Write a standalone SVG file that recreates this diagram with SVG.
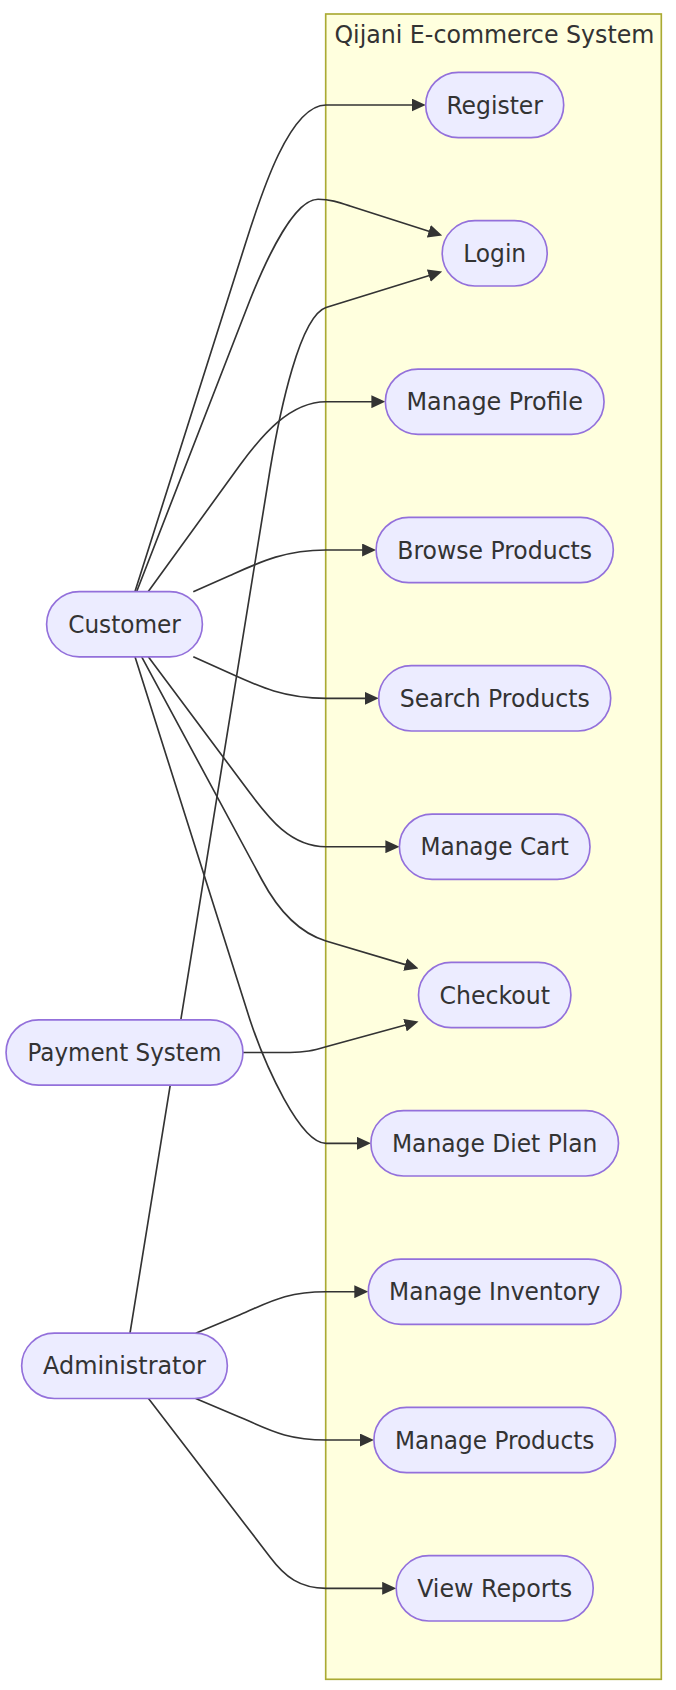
<svg xmlns="http://www.w3.org/2000/svg" width="676" height="1690" viewBox="0 0 676 1690">
<defs>
<style>
.cluster{fill:#ffffde;stroke:#aaaa33;stroke-width:1.65}
.node rect{fill:#ECECFF;stroke:#9370DB;stroke-width:1.65}
.node text,.title{font-family:"DejaVu Sans Condensed","DejaVu Sans","Liberation Sans",sans-serif;font-stretch:condensed;font-size:24.5px;fill:#333333;text-anchor:middle}
.edge{fill:none;stroke:#333333;stroke-width:1.65;marker-end:url(#arrow)}
</style>
<marker id="arrow" viewBox="0 0 14 13" refX="9" refY="6.5" markerWidth="14" markerHeight="13" markerUnits="userSpaceOnUse" orient="auto">
<path d="M0,0 L14,6.5 L0,13 z" fill="#333333"/>
</marker>
</defs>
<rect width="676" height="1690" fill="#ffffff"/>
<g id="cluster-system">
<rect class="cluster" x="325.7" y="14" width="335.6" height="1665.3"/>
<text class="title" x="494.4" y="42.5" textLength="320" lengthAdjust="spacingAndGlyphs">Qijani E-commerce System</text>
</g>
<g id="connectors">
<path class="edge" d="M135,591.55 L245,245 C262,191 290,105 326,105 L420.7,105"/>
<path class="edge" d="M136.7,591.55 L250,300 C268,255 295,199.3 318,199.3 C330,199.3 338,202 350,206 L437.4,234"/>
<path class="edge" d="M148.3,591.55 L240,465 C262,435 290,401.7 326,401.7 L380.35,401.7"/>
<path class="edge" d="M193.3,591.7 L230,575.5 C260,562 285,550 326,550 L371.1,550"/>
<path class="edge" d="M193.3,656.7 L230,673.3 C260,687 285,698.3 326,698.3 L373.7,698.3"/>
<path class="edge" d="M148.3,656.85 L250,793 C268,817 290,846.7 326,846.7 L394.4,846.7"/>
<path class="edge" d="M141.7,656.85 L262,880 C278,910 300,933 326,941 L413.7,967.1"/>
<path class="edge" d="M135,656.85 L250,1020 C265,1065 300,1143.3 326,1143.3 L365.9,1143.3"/>
<path class="edge" d="M242.95,1052.5 L290,1052.5 C305,1052.5 313,1050.5 326,1046.7 L413.7,1022.8"/>
<path class="edge" d="M130,1333.15 L270,470 C280,410 300,316 326,307.5 L437.4,273"/>
<path class="edge" d="M195.7,1333.15 L240,1314.7 C268,1303 285,1291.7 326,1291.7 L363.3,1291.7"/>
<path class="edge" d="M195.7,1398.45 L240,1417.3 C268,1429 285,1440 326,1440 L368.9,1440"/>
<path class="edge" d="M148.5,1398.45 L270,1557 C285,1577 300,1588.3 326,1588.3 L391.2,1588.3"/>
</g>
<g id="register" class="node"><rect x="425.7" y="72.35" width="138" height="65.3" rx="32.65"/><text x="494.7" y="113.6" textLength="96.5" lengthAdjust="spacingAndGlyphs">Register</text></g>
<g id="login" class="node"><rect x="442.2" y="220.65" width="105" height="65.3" rx="32.65"/><text x="494.7" y="261.9" textLength="63" lengthAdjust="spacingAndGlyphs">Login</text></g>
<g id="manage-profile" class="node"><rect x="385.35" y="369.05" width="218.7" height="65.3" rx="32.65"/><text x="494.7" y="410.3" textLength="176.5" lengthAdjust="spacingAndGlyphs">Manage Profile</text></g>
<g id="browse-products" class="node"><rect x="376.1" y="517.35" width="237.2" height="65.3" rx="32.65"/><text x="494.7" y="558.6" textLength="194.8" lengthAdjust="spacingAndGlyphs">Browse Products</text></g>
<g id="search-products" class="node"><rect x="378.7" y="665.65" width="232" height="65.3" rx="32.65"/><text x="494.7" y="706.9" textLength="190" lengthAdjust="spacingAndGlyphs">Search Products</text></g>
<g id="manage-cart" class="node"><rect x="399.4" y="814.05" width="190.6" height="65.3" rx="32.65"/><text x="494.7" y="855.3" textLength="148.5" lengthAdjust="spacingAndGlyphs">Manage Cart</text></g>
<g id="checkout" class="node"><rect x="418.5" y="962.35" width="152.4" height="65.3" rx="32.65"/><text x="494.7" y="1003.6" textLength="110.5" lengthAdjust="spacingAndGlyphs">Checkout</text></g>
<g id="manage-diet-plan" class="node"><rect x="370.9" y="1110.65" width="247.6" height="65.3" rx="32.65"/><text x="494.7" y="1151.9" textLength="205.5" lengthAdjust="spacingAndGlyphs">Manage Diet Plan</text></g>
<g id="manage-inventory" class="node"><rect x="368.3" y="1259.05" width="252.8" height="65.3" rx="32.65"/><text x="494.7" y="1300.3" textLength="211.3" lengthAdjust="spacingAndGlyphs">Manage Inventory</text></g>
<g id="manage-products" class="node"><rect x="373.9" y="1407.35" width="241.6" height="65.3" rx="32.65"/><text x="494.7" y="1448.6" textLength="199.5" lengthAdjust="spacingAndGlyphs">Manage Products</text></g>
<g id="view-reports" class="node"><rect x="396.2" y="1555.65" width="197" height="65.3" rx="32.65"/><text x="494.7" y="1596.9" textLength="155" lengthAdjust="spacingAndGlyphs">View Reports</text></g>
<g id="customer" class="node"><rect x="46.6" y="591.55" width="155.8" height="65.3" rx="32.65"/><text x="124.5" y="632.8" textLength="112.6" lengthAdjust="spacingAndGlyphs">Customer</text></g>
<g id="payment-system" class="node"><rect x="6.05" y="1019.85" width="236.9" height="65.3" rx="32.65"/><text x="124.5" y="1061.1" textLength="193.9" lengthAdjust="spacingAndGlyphs">Payment System</text></g>
<g id="administrator" class="node"><rect x="21.65" y="1333.15" width="205.7" height="65.3" rx="32.65"/><text x="124.5" y="1374.4" textLength="162.8" lengthAdjust="spacingAndGlyphs">Administrator</text></g>
</svg>
